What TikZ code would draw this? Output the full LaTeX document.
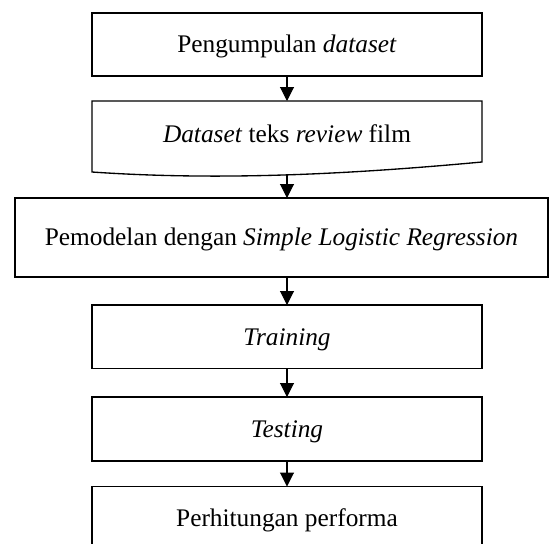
\documentclass[tikz,border=0pt]{standalone}
\usepackage{fontspec}
\setmainfont{Liberation Serif}
\usetikzlibrary{arrows.meta}
\begin{document}
\begin{tikzpicture}[x=0.75pt,y=-0.75pt,
  box/.style={draw=black, line width=1pt, rectangle, inner sep=0pt, outer sep=0pt,
    minimum width={390*0.75pt}, minimum height={63*0.75pt},
    text height=12.6pt, text depth=0pt, font=\fontsize{19}{23}\selectfont},
  outline/.style={draw=black, line width=1pt, line join=miter},
  flow/.style={line width=0.8pt, -{Triangle[length=10.5pt,width=10.5pt]}}]
\useasboundingbox (0,0) rectangle (550,543);
\clip (0,0) rectangle (550,543);
\node[box] (b1) at (287,44.5) {Pengumpulan \textit{dataset}};
\node[box, draw=none, minimum height={67*0.75pt}] (b2) at (287,134.5) {\textit{Dataset} teks \textit{review} film};
\draw[outline] (b2.north west) -- (b2.north east) -- (482,162) .. controls (352,174) and (222,181) .. (92,172) -- cycle;
\coordinate (w2) at (287,175);
\node[box, minimum width={533*0.75pt}, minimum height={79*0.75pt}] (b3) at (281.5,237.5) {Pemodelan dengan \textit{Simple Logistic Regression}};
\node[box, minimum height={63.5*0.75pt}] (b4) at (287,336.75) {\textit{Training}};
\node[box, minimum height={64*0.75pt}] (b5) at (287,429) {\textit{Testing}};
\node[box, minimum height={64*0.75pt}] (b6) at (287,518.5) {Perhitungan performa};
\draw[flow] (b1.south) -- (b2.north);
\draw[flow] (w2) -- (b3.north -| w2);
\draw[flow] (b3.south -| b4.north) -- (b4.north);
\draw[flow] (b4.south) -- (b5.north);
\draw[flow] (b5.south) -- (b6.north);
\end{tikzpicture}
\end{document}
